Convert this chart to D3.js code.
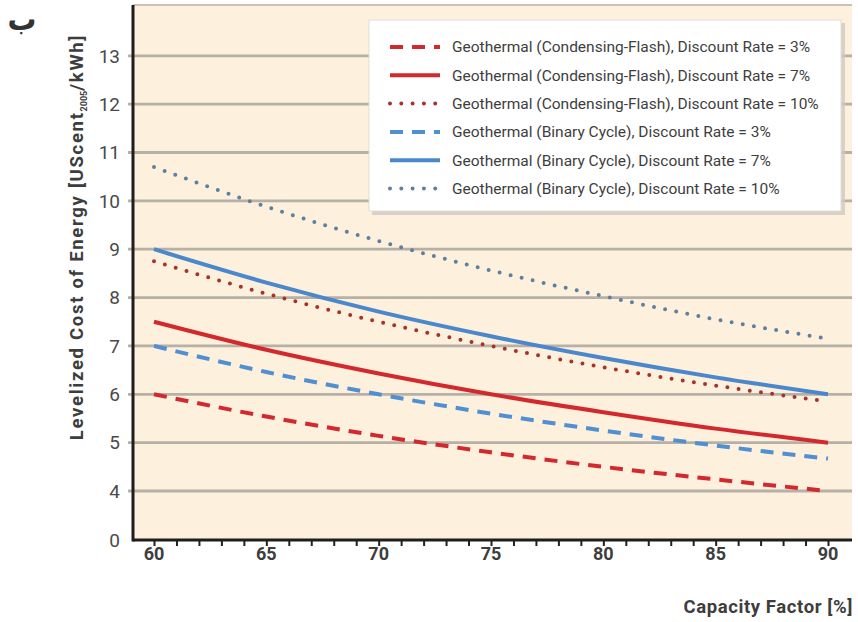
<!DOCTYPE html>
<html>
<head>
<meta charset="utf-8">
<script src="https://cdn.jsdelivr.net/npm/d3@7/dist/d3.min.js"></script>
<style>
  html, body { margin: 0; padding: 0; background: #ffffff; }
  svg { display: block; }
  text { font-family: "Roboto", "DejaVu Sans Condensed", sans-serif; }
</style>
</head>
<body>
<svg id="chart" width="858" height="622"></svg>
<script>
// Capacity factor (%) sampled every 5 points
const capacityFactor = [60, 65, 70, 75, 80, 85, 90];

// Levelized cost of energy, US cent(2005)/kWh
const flash3  = [6.0, 5.54, 5.14, 4.8, 4.5, 4.24, 4.0];
const flash7  = [7.5, 6.92, 6.43, 6.0, 5.63, 5.29, 5.0];
const flash10 = [8.75, 8.08, 7.5, 7.0, 6.56, 6.18, 5.85];
const binary3  = [7.0, 6.46, 6.0, 5.6, 5.25, 4.94, 4.67];
const binary7  = [9.0, 8.31, 7.71, 7.2, 6.75, 6.35, 6.0];
const binary10 = [10.7, 9.88, 9.17, 8.56, 8.03, 7.55, 7.15];

const seriesNames = [
  "Geothermal (Condensing-Flash), Discount Rate = 3%",
  "Geothermal (Condensing-Flash), Discount Rate = 7%",
  "Geothermal (Condensing-Flash), Discount Rate = 10%",
  "Geothermal (Binary Cycle), Discount Rate = 3%",
  "Geothermal (Binary Cycle), Discount Rate = 7%",
  "Geothermal (Binary Cycle), Discount Rate = 10%"
];

const xTicks = [60, 65, 70, 75, 80, 85, 90];
const yTicks = [0, 4, 5, 6, 7, 8, 9, 10, 11, 12, 13];

const RED = "#d3282d", BLUE = "#4f8fd2";
const series = [
  { name: seriesNames[0], values: flash3,   color: RED,  style: "dash" },
  { name: seriesNames[1], values: flash7,   color: RED,  style: "solid" },
  { name: seriesNames[2], values: flash10,  color: "#a8322a", style: "dot" },
  { name: seriesNames[3], values: binary3,  color: BLUE, style: "dash" },
  { name: seriesNames[4], values: binary7,  color: "#4b87cb", style: "solid" },
  { name: seriesNames[5], values: binary10, color: "#5f7f9e", style: "dot" }
];

const svg = d3.select("#chart");
const plot = { left: 133, right: 852, top: 5, bottom: 540 };

const x = d3.scaleLinear().domain([60, 90]).range([154, 828]);
// broken axis: 0 sits one step below 4
const y = d3.scaleLinear().domain([0, 4, 14.05]).range([plot.bottom, 491, plot.top]);

// background
svg.append("rect")
  .attr("x", plot.left).attr("y", plot.top)
  .attr("width", plot.right - plot.left).attr("height", plot.bottom - plot.top)
  .attr("fill", "#fdf0dd");

// top frame line
svg.append("line")
  .attr("x1", plot.left).attr("x2", plot.right)
  .attr("y1", plot.top).attr("y2", plot.top)
  .attr("stroke", "#c9c3bb").attr("stroke-width", 2);

// horizontal gridlines
svg.append("g").selectAll("line")
  .data(yTicks.filter(d => d > 0))
  .join("line")
  .attr("x1", plot.left - 5).attr("x2", plot.right)
  .attr("y1", d => y(d)).attr("y2", d => y(d))
  .attr("stroke", "#b6b0a7").attr("stroke-width", 2.8);

// y tick labels
svg.append("g").selectAll("text")
  .data(yTicks)
  .join("text")
  .attr("x", 120).attr("y", d => y(d))
  .attr("dy", "0.36em")
  .attr("text-anchor", "end")
  .attr("font-size", 19)
  .attr("fill", "#4a4a4a")
  .text(d => d);

// x axis with minor ticks
const xAxis = d3.axisBottom(x)
  .tickValues(d3.range(60, 91, 1))
  .tickSize(6)
  .tickFormat("");
const gx = svg.append("g").attr("transform", `translate(0,${plot.bottom})`).call(xAxis);
gx.select(".domain").remove();
gx.selectAll(".tick line").attr("stroke", "#222").attr("stroke-width", 2);

svg.append("g").selectAll("text")
  .data(xTicks)
  .join("text")
  .attr("x", d => x(d)).attr("y", 560)
  .attr("text-anchor", "middle")
  .attr("font-size", 18)
  .attr("font-weight", "bold")
  .attr("fill", "#3d3d3d")
  .text(d => d);

// axis lines
svg.append("line")
  .attr("x1", plot.left).attr("x2", plot.right)
  .attr("y1", plot.bottom).attr("y2", plot.bottom)
  .attr("stroke", "#1e1e1e").attr("stroke-width", 3);
svg.append("line")
  .attr("x1", plot.left).attr("x2", plot.left)
  .attr("y1", plot.top).attr("y2", plot.bottom + 1.5)
  .attr("stroke", "#1e1e1e").attr("stroke-width", 3);

// series lines
const line = d3.line()
  .x((d, i) => x(capacityFactor[i]))
  .y(d => y(d))
  .curve(d3.curveMonotoneX);

function styleLine(sel, s) {
  sel.attr("fill", "none").attr("stroke", s.color);
  if (s.style === "solid") {
    sel.attr("stroke-width", 4);
  } else if (s.style === "dash") {
    sel.attr("stroke-width", 4).attr("stroke-dasharray", "13 9");
  } else {
    sel.attr("stroke-width", 4).attr("stroke-linecap", "round").attr("stroke-dasharray", "0 11.3");
  }
  return sel;
}

series.forEach(s => {
  styleLine(svg.append("path").attr("d", line(s.values)), s);
});

// legend
const lg = svg.append("g");
lg.append("rect")
  .attr("x", 372).attr("y", 23).attr("width", 473).attr("height", 192)
  .attr("fill", "#cfc9c0").attr("opacity", 0.8);
lg.append("rect")
  .attr("x", 369).attr("y", 20).attr("width", 472).attr("height", 191)
  .attr("fill", "#ffffff").attr("stroke", "#e2ddd6").attr("stroke-width", 1);

const rowY = i => 47 + i * 28.3;
series.forEach((s, i) => {
  styleLine(lg.append("line")
    .attr("x1", 390).attr("x2", 440)
    .attr("y1", rowY(i)).attr("y2", rowY(i)), s);
  lg.append("text")
    .attr("x", 452).attr("y", rowY(i))
    .attr("dy", "0.35em")
    .attr("font-size", 15.5)
    .attr("fill", "#3e3e3e")
    .text(s.name);
});

// axis titles
const yt = svg.append("text")
  .attr("transform", "translate(83,237) rotate(-90)")
  .attr("text-anchor", "middle")
  .attr("font-size", 18.5)
  .attr("font-weight", "bold")
  .attr("letter-spacing", 1.7)
  .attr("fill", "#3d3d3d");
yt.append("tspan").text("Levelized Cost of Energy [UScent");
yt.append("tspan").attr("font-size", 9).attr("dy", 4).attr("letter-spacing", 0).text("2005");
yt.append("tspan").attr("dy", -4).text("/kWh]");

svg.append("text")
  .attr("x", 853).attr("y", 613)
  .attr("text-anchor", "end")
  .attr("font-size", 18.5)
  .attr("font-weight", "bold")
  .attr("letter-spacing", 0.6)
  .attr("fill", "#3d3d3d")
  .text("Capacity Factor [%]");

// panel letter
svg.append("text")
  .attr("x", 22).attr("y", 30)
  .attr("text-anchor", "middle")
  .attr("font-family", "DejaVu Sans")
  .attr("font-size", 32)
  .attr("font-weight", "bold")
  .attr("fill", "#333")
  .text("ب");
</script>
</body>
</html>
